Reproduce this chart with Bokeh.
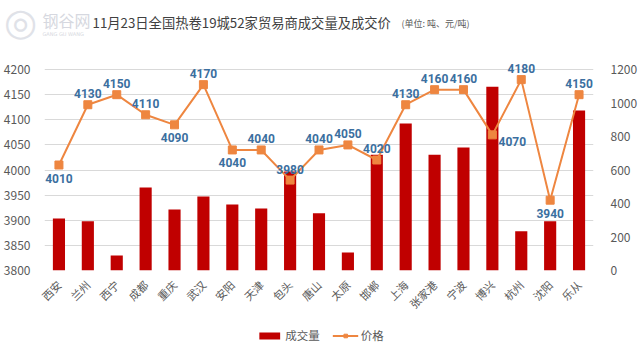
from bokeh.plotting import figure
from bokeh.models import (ColumnDataSource, Range1d, LinearAxis, FactorRange, Label,
                          Legend, LegendItem, FixedTicker)
from bokeh.layouts import column
from bokeh.core.properties import value
from bokeh.embed import file_html
from bokeh.resources import INLINE

cities = ["西安", "兰州", "西宁", "成都", "重庆", "武汉", "安阳", "天津", "包头", "唐山",
          "太原", "邯郸", "上海", "张家港", "宁波", "博兴", "杭州", "沈阳", "乐从"]
volume = [310, 294, 90, 495, 364, 442, 394, 370, 591, 342,
          107, 692, 878, 692, 734, 1098, 235, 294, 955]
price = [4010, 4130, 4150, 4110, 4090, 4170, 4040, 4040, 3980, 4040,
         4050, 4020, 4130, 4160, 4160, 4070, 4180, 3940, 4150]
price_ticks = [3800, 3850, 3900, 3950, 4000, 4050, 4100, 4150, 4200]
volume_ticks = [0, 200, 400, 600, 800, 1000, 1200]
# label placement (style): a=above, b=below, r=right-below
label_place = ["b", "a", "a", "a", "b", "a", "b", "a", "a", "a",
               "a", "a", "a", "a", "a", "r", "a", "b", "a"]

FONT = "Noto Sans CJK SC"
BAR_COLOR = "#C00000"
LINE_COLOR = "#EE8640"
offs = {"a": (0, -11), "b": (0, 13), "r": (20, 7)}

src = ColumnDataSource(dict(
    city=cities, vol=volume, price=price,
    ptxt=[str(v) for v in price],
    dx=[offs[k][0] for k in label_place],
    dy=[offs[k][1] for k in label_place],
))

W = 640
HEAD_H = 46
FOOT_H = 30
# price axis 3800..4200 drawn over 201px; a little headroom so top labels are not clipped
P_LO, P_HI, P_TOP = 3800, 4200, 4230
V_TOP = 1200 * (P_TOP - P_LO) / (P_HI - P_LO)
FRAME_TOP = 69 - (P_TOP - P_HI) * 201 / (P_HI - P_LO)
MAIN_H = 274


def bare(height, **kw):
    f = figure(width=W, height=height, output_backend="svg", toolbar_location=None,
               x_axis_location=None, y_axis_location=None,
               min_border_left=0, min_border_right=0,
               min_border_top=0, min_border_bottom=0, frame_align=False, **kw)
    f.outline_line_color = None
    f.grid.visible = False
    return f


# ---------- header (logo + title) ----------
head = bare(HEAD_H, x_range=Range1d(0, 1), y_range=Range1d(0, 1))
head.add_layout(Label(x=20, y=HEAD_H - 21, x_units="screen", y_units="screen", text="◎",
                      text_font="DejaVu Sans", text_font_size="38px", text_color="#E0E2E8",
                      text_align="center", text_baseline="middle"))
head.add_layout(Label(x=42, y=HEAD_H - 19, x_units="screen", y_units="screen", text="钢谷网",
                      text_font=FONT, text_font_size="16px", text_color="#D6D8E0",
                      text_baseline="middle"))
head.add_layout(Label(x=42, y=HEAD_H - 33, x_units="screen", y_units="screen",
                      text="GANG GU WANG",
                      text_font="DejaVu Sans", text_font_size="5px", text_color="#D6D8E0",
                      text_baseline="middle"))
head.add_layout(Label(x=92, y=HEAD_H - 22, x_units="screen", y_units="screen",
                      text="11月23日全国热卷19城52家贸易商成交量及成交价",
                      text_font=FONT, text_font_size="13.3px", text_color="#404040",
                      text_baseline="middle"))
head.add_layout(Label(x=401, y=HEAD_H - 23, x_units="screen", y_units="screen",
                      text="(单位: 吨、元/吨)",
                      text_font=FONT, text_font_size="9px", text_color="#595959",
                      text_baseline="middle"))

# ---------- main chart ----------
p = figure(x_range=FactorRange(*cities), y_range=Range1d(P_LO, P_TOP),
           width=W, height=MAIN_H, output_backend="svg", toolbar_location=None,
           min_border_left=40, min_border_right=40,
           min_border_top=int(round(FRAME_TOP - HEAD_H)),
           min_border_bottom=MAIN_H - (270 - HEAD_H))
p.outline_line_color = None
p.extra_y_ranges = {"vol": Range1d(0, V_TOP)}

yl = p.yaxis[0]
yl.ticker = FixedTicker(ticks=price_ticks)
yl.axis_line_color = None
yl.major_tick_line_color = None
yl.minor_tick_line_color = None
yl.major_label_text_font = FONT
yl.major_label_text_font_size = "12px"
yl.major_label_text_color = "#595959"
yl.major_label_standoff = 8

yr = LinearAxis(y_range_name="vol", ticker=FixedTicker(ticks=volume_ticks))
yr.axis_line_color = None
yr.major_tick_line_color = None
yr.minor_tick_line_color = None
yr.major_label_text_font = FONT
yr.major_label_text_font_size = "12px"
yr.major_label_text_color = "#595959"
yr.major_label_standoff = 11
p.add_layout(yr, "right")

xa = p.xaxis[0]
xa.axis_line_color = None
xa.major_tick_line_color = None
xa.minor_tick_line_color = None
xa.major_label_orientation = 0.785
xa.major_label_text_font = FONT
xa.major_label_text_font_size = "11px"
xa.major_label_text_color = "#595959"
xa.major_label_standoff = 6

p.xgrid.grid_line_color = None
p.ygrid.grid_line_color = "#D9D9D9"

p.vbar(x="city", top="vol", bottom=0, width=0.42, source=src,
       y_range_name="vol", fill_color=BAR_COLOR, line_color=None)
p.line(x="city", y="price", source=src, line_color=LINE_COLOR, line_width=2)
p.scatter(x="city", y="price", source=src, marker="square", size=8,
          fill_color=LINE_COLOR, line_color=LINE_COLOR)

p.text(x="city", y="price", text="ptxt", source=src, x_offset="dx", y_offset="dy",
       text_align="center", text_baseline="middle", text_font=value("Roboto"),
       text_font_size="12px", text_font_style="bold", text_color="#3B6FA0")

# ---------- footer legend (legend keys only; hidden renderers) ----------
foot = bare(FOOT_H, x_range=FactorRange(*cities), y_range=Range1d(0, 1))
lb = foot.vbar(x="city", top="vol", width=0.4, source=src, fill_color=BAR_COLOR,
               line_color=None, visible=False)
ll = foot.line(x="city", y="price", source=src, line_color=LINE_COLOR, line_width=2,
               visible=False)
lm = foot.scatter(x="city", y="price", source=src, marker="square", size=7,
                  fill_color=LINE_COLOR, line_color=LINE_COLOR, visible=False)
legend = Legend(items=[LegendItem(label="成交量", renderers=[lb]),
                       LegendItem(label="价格", renderers=[ll, lm])],
                orientation="horizontal", location="center",
                label_text_font=FONT, label_text_font_size="11.5px",
                label_text_color="#595959", glyph_width=26, glyph_height=9,
                spacing=12, padding=0, margin=0, label_standoff=3,
                inactive_fill_alpha=0,
                border_line_color=None, background_fill_alpha=0)
foot.add_layout(legend, "center")

layout = column(head, p, foot, spacing=0)
open("out.html", "w").write(file_html(layout, INLINE))
